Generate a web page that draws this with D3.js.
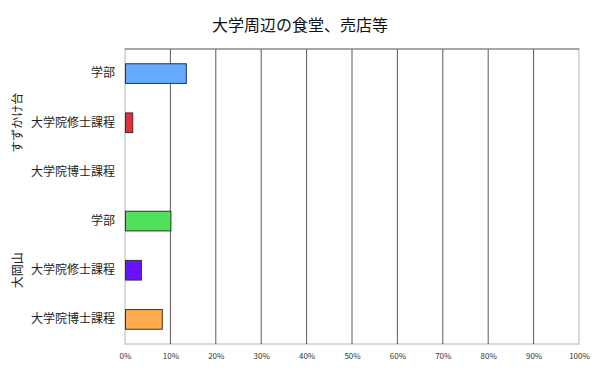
<!DOCTYPE html>
<html>
<head>
<meta charset="utf-8">
<script src="https://cdn.jsdelivr.net/npm/d3@7"></script>
<style>
  body { margin: 0; background: #fff; }
  svg { font-family: "Noto Sans CJK JP", sans-serif; }
</style>
</head>
<body>
<svg id="chart" width="600" height="374"></svg>
<script>
// data
const title = '大学周辺の食堂、売店等';
const groups = ['すずかけ台', '大岡山'];
const categories = ['学部', '大学院修士課程', '大学院博士課程'];
const values = [
  [13.4, 1.6, 0],
  [10.0, 3.5, 8.1]
];
const colors = [
  ['#66aaff', '#e0303a', '#999'],
  ['#50e05a', '#6a12ff', '#ffaa4c']
];
const ticks = [0, 10, 20, 30, 40, 50, 60, 70, 80, 90, 100];

let rows = [];
groups.forEach((g, gi) => {
  categories.forEach((c, ci) => {
    rows.push({ id: gi + '-' + ci, group: g, label: c, value: values[gi][ci], color: colors[gi][ci] });
  });
});

const margin = { top: 49, right: 21, bottom: 30, left: 125 };
const width = 600, height = 374;
const svg = d3.select('#chart');

const x = d3.scaleLinear().domain([0, 100]).range([margin.left, width - margin.right]);
const y = d3.scaleBand().domain(rows.map(d => d.id))
  .range([margin.top, height - margin.bottom]).paddingInner(0.6).paddingOuter(0.3);

svg.append('text')
  .attr('x', 300).attr('y', 31)
  .attr('text-anchor', 'middle')
  .attr('font-size', 16)
  .attr('fill', '#111')
  .text(title);

// frame
svg.append('rect')
  .attr('x', x(0)).attr('y', margin.top)
  .attr('width', x(100) - x(0)).attr('height', height - margin.bottom - margin.top)
  .attr('fill', 'none').attr('stroke', '#b4b4b4');

// gridlines
svg.append('g').selectAll('line')
  .data(ticks.filter(t => t > 0 && t < 100))
  .join('line')
  .attr('x1', d => x(d)).attr('x2', d => x(d))
  .attr('y1', margin.top).attr('y2', height - margin.bottom)
  .attr('stroke', '#5a5a5a');

svg.append('line')
  .attr('x1', x(0)).attr('x2', x(100))
  .attr('y1', margin.top).attr('y2', margin.top)
  .attr('stroke', '#777');

// x axis labels
const xAxis = svg.append('g')
  .attr('transform', 'translate(0,' + (height - margin.bottom) + ')')
  .call(d3.axisBottom(x).tickValues(ticks).tickFormat(d => d + '%').tickSize(0).tickPadding(9));
xAxis.select('.domain').remove();
xAxis.selectAll('text')
  .attr('font-family', '"Noto Sans CJK JP", sans-serif')
  .attr('font-size', 8).attr('fill', '#333');

// y axis labels
const yAxis = svg.append('g')
  .attr('transform', 'translate(' + x(0) + ',0)')
  .call(d3.axisLeft(y).tickFormat(id => rows.find(r => r.id === id).label).tickSize(0).tickPadding(10));
yAxis.select('.domain').remove();
yAxis.selectAll('text')
  .attr('font-family', '"Noto Sans CJK JP", sans-serif')
  .attr('font-size', 12).attr('fill', '#222');

// bars
svg.append('g').selectAll('rect')
  .data(rows.filter(d => d.value > 0))
  .join('rect')
  .attr('x', x(0) + 0.5)
  .attr('y', d => y(d.id))
  .attr('width', d => x(d.value) - x(0))
  .attr('height', y.bandwidth())
  .attr('fill', d => d.color)
  .attr('stroke', '#333')
  .attr('stroke-width', 1);

// group labels
groups.forEach((g, gi) => {
  const ids = rows.filter(r => r.group === g).map(r => r.id);
  const cy = (y(ids[0]) + y(ids[ids.length - 1]) + y.bandwidth()) / 2;
  svg.append('text')
    .attr('transform', 'translate(22,' + cy + ') rotate(-90)')
    .attr('text-anchor', 'middle')
    .attr('font-size', 12)
    .attr('fill', '#222')
    .text(g);
});
</script>
</body>
</html>
